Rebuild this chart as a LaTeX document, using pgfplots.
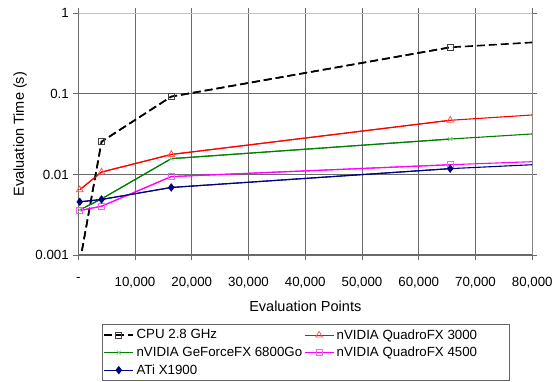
\documentclass[border=0pt]{standalone}
\usepackage{fontspec}
\setmainfont{Liberation Sans}
\usepackage{pgfplots}
\pgfplotsset{compat=1.18}
\definecolor{gridgray}{RGB}{105,105,105}
\definecolor{framelight}{RGB}{192,192,192}
\definecolor{legframe}{RGB}{100,100,100}
\definecolor{cpublack}{RGB}{0,0,0}
\definecolor{qred}{RGB}{255,0,0}
\definecolor{qredmark}{RGB}{255,90,90}
\definecolor{ggreen}{RGB}{0,128,0}
\definecolor{ggreenmark}{RGB}{140,200,140}
\definecolor{qmag}{RGB}{255,0,255}
\definecolor{qmagmark}{RGB}{255,90,255}
\definecolor{anavy}{RGB}{0,0,128}
\begin{document}
\begin{tikzpicture}
\useasboundingbox (-78.3pt,-127pt) rectangle (476.7pt,255pt);
\begin{axis}[
  at={(0pt,0pt)}, anchor=south west,
  scale only axis,
  width=454pt, height=241.7pt,
  xmin=0, xmax=80000,
  ymode=log, ymin=0.001, ymax=1,
  xtick={0,10000,20000,30000,40000,50000,60000,70000,80000},
  xticklabels={{-},{10,000},{20,000},{30,000},{40,000},{50,000},{60,000},{70,000},{80,000}},
  ytick={0.001,0.01,0.1,1},
  yticklabels={0.001,0.01,0.1,1},
  minor y tick style={draw=none},
  scaled x ticks=false,
  /pgf/number format/assume math mode=true,
  grid=major,
  major grid style={draw=gridgray, line width=0.9pt},
  axis line style={draw=none},
  tick align=outside,
  major tick length=5pt,
  tick style={draw=gridgray, line width=0.9pt},
  ticklabel style={font=\fontsize{13.3}{15}\selectfont},
  xticklabel style={yshift=-14pt},
  yticklabel style={xshift=-1pt},
  xlabel={Evaluation Points},
  ylabel={Evaluation Time (s)},
  label style={font=\fontsize{14.5}{17}\selectfont},
  xlabel style={at={(axis description cs:0.5,-0.212)}, anchor=center},
  ylabel style={at={(axis description cs:-0.128,0.5)}, anchor=center},
  clip=true,
  legend columns=2,
  legend cell align=left,
  legend style={
    at={(0.0522,-0.2875)}, anchor=north west,
    draw=legframe, line width=1pt,
    inner xsep=1pt, inner ysep=2pt,
    font=\fontsize{13.3}{15}\selectfont,
    row sep=1.4pt,
    nodes={inner sep=2.5pt},
    /tikz/every even column/.append style={column sep=0pt},
  },
  legend image code/.code={
    \draw[mark repeat=2,mark phase=2] plot coordinates {(0pt,0pt)(14.5pt,0pt)(29pt,0pt)};
  },
  cpu/.style={cpublack, line width=1.6pt, dash pattern=on 8pt off 4pt},
  q3/.style={qred, line width=1.1pt},
  g6/.style={ggreen, line width=1.1pt},
  q4/.style={qmag, line width=1.1pt},
  ati/.style={anavy, line width=1.1pt},
]
% lines continuing to the right edge (no marks)
\addplot[cpu, mark=none, forget plot]
  coordinates {(256,0.0008) (4096,0.0255) (16384,0.0925) (65536,0.378) (80000,0.435)};
\addplot[q3, mark=none, forget plot]
  coordinates {(256,0.00645) (4096,0.0107) (16384,0.0177) (65536,0.047) (80000,0.0547)};
\addplot[g6, mark=none, forget plot]
  coordinates {(256,0.00363) (4096,0.00497) (16384,0.0157) (65536,0.0275) (80000,0.0318)};
\addplot[q4, mark=none, forget plot]
  coordinates {(256,0.00356) (4096,0.00403) (16384,0.0094) (65536,0.0132) (80000,0.0144)};
\addplot[ati, mark=none, forget plot]
  coordinates {(256,0.00457) (4096,0.00489) (16384,0.00689) (65536,0.0118) (80000,0.0132)};
% measured points with markers
\addplot[cpu, mark=square, mark size=3pt, mark options={solid, line width=0.8pt, draw=black!75, fill=white}]
  coordinates {(256,0.0008) (4096,0.0255) (16384,0.0925) (65536,0.378)};
\addlegendentry{\makebox[165pt][l]{CPU 2.8 GHz}}
\addplot[q3, mark=triangle, mark size=3.8pt, mark options={solid, line width=0.8pt, draw=qredmark}]
  coordinates {(256,0.00645) (4096,0.0107) (16384,0.0177) (65536,0.047)};
\addlegendentry{\makebox[169pt][l]{nVIDIA QuadroFX 3000}}
\addplot[g6, mark=x, mark size=3pt, mark options={solid, line width=0.8pt, draw=ggreenmark}]
  coordinates {(256,0.00363) (4096,0.00497) (16384,0.0157) (65536,0.0275)};
\addlegendentry{\makebox[165pt][l]{nVIDIA GeForceFX 6800Go}}
\addplot[q4, mark=square, mark size=3pt, mark options={solid, line width=0.8pt, draw=qmagmark}]
  coordinates {(256,0.00356) (4096,0.00403) (16384,0.0094) (65536,0.0132)};
\addlegendentry{\makebox[169pt][l]{nVIDIA QuadroFX 4500}}
\addplot[ati, mark=diamond*, mark size=3.4pt, mark options={solid, draw=anavy, fill=anavy}]
  coordinates {(256,0.00457) (4096,0.00489) (16384,0.00689) (65536,0.0118)};
\addlegendentry{\makebox[165pt][l]{ATi X1900}}
\draw[framelight, line width=1pt] (rel axis cs:0,1) -- (rel axis cs:1,1) -- (rel axis cs:1,0);
\draw[gridgray, line width=1pt] (rel axis cs:0,1) -- (rel axis cs:0,0) -- (rel axis cs:1,0);
\end{axis}
\end{tikzpicture}
\end{document}
